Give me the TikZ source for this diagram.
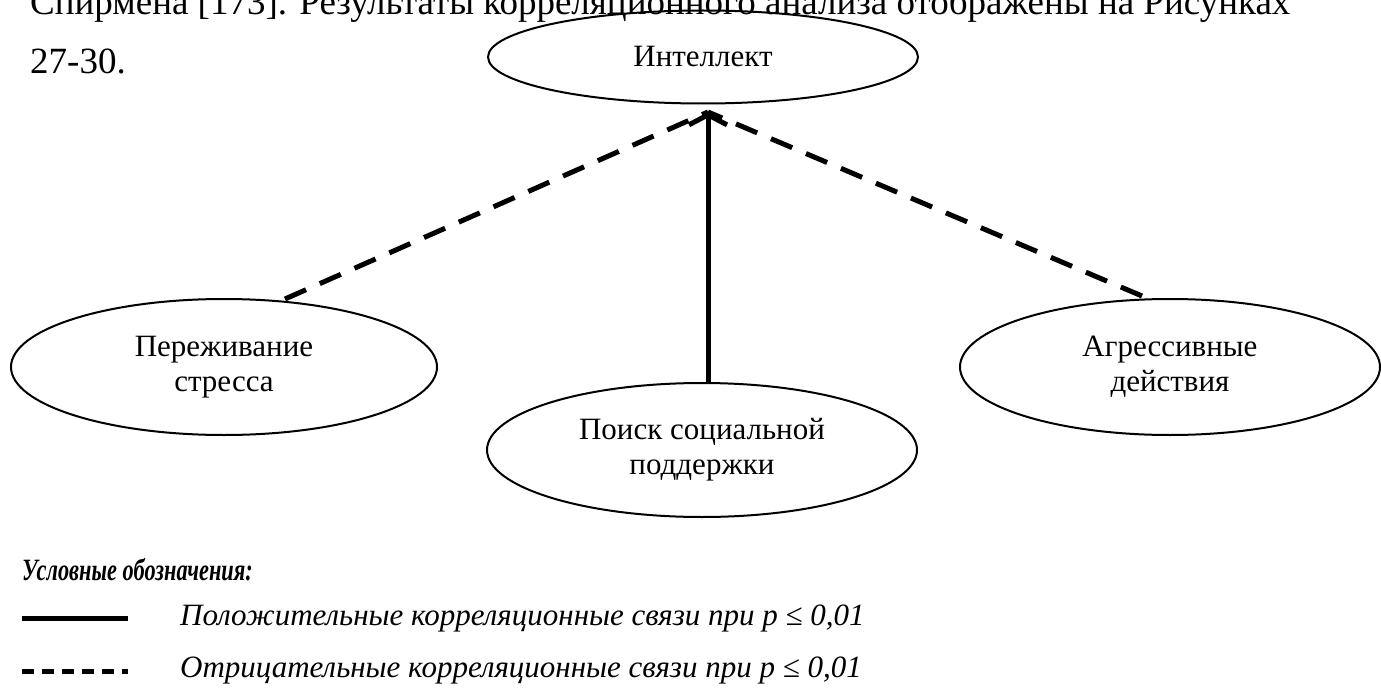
\documentclass[tikz,border=0pt]{standalone}
\usepackage{fontspec}
\setmainfont{Liberation Serif}
\usetikzlibrary{shapes.geometric,arrows.meta}
\begin{document}
\begin{tikzpicture}[x=1pt,y=-1pt,
  oval/.style={draw,line width=2pt,ellipse,inner sep=0pt,font=\fontsize{31}{35}\selectfont,align=center},
  posline/.style={line width=5pt},
  negline/.style={line width=5pt,dash pattern=on 23pt off 15pt},
  legtext/.style={anchor=base west,inner sep=0pt,font=\fontsize{31}{36}\selectfont\itshape},
  body/.style={anchor=base west,inner sep=0pt,font=\fontsize{37}{44}\selectfont}]
\useasboundingbox (0,0) rectangle (1381,690);
\node[body] (l1) at (30,15) {Спирмена [173]. Результаты корреляционного анализа отображены на Рисунках};
\node[body] (l2) at (30,74) {27-30.};
\node[oval,minimum width=430pt,minimum height=93pt] (int) at (703,57) {Интеллект};
\node[oval,minimum width=426pt,minimum height=136pt] (str) at (224,367) {Переживание\\стресса};
\node[oval,minimum width=430pt,minimum height=134pt] (soc) at (702,450) {Поиск социальной\\поддержки};
\node[oval,minimum width=420pt,minimum height=136pt] (agr) at (1170,367) {Агрессивные\\действия};
\coordinate (tip) at (708,112);
\coordinate (sb) at (708,383);
\coordinate (lb) at (285,299);
\coordinate (rb) at (1142,296);
\draw[posline,-{Straight Barb[length=10pt,width=38pt,line width=5pt]}] (sb) -- (tip);
\draw[negline] (lb) -- (tip);
\draw[negline] (rb) -- (tip);
\node[anchor=base west,inner sep=0pt,font=\fontsize{31}{36}\selectfont\bfseries\itshape] (leg) at (22,580) {\scalebox{0.72}[1]{Условные обозначения:}};
\coordinate (a1) at (22,618); \coordinate (a2) at (128,618);
\coordinate (b1) at (22,671); \coordinate (b2) at (128,671);
\draw[line width=5pt] (a1) -- (a2);
\draw[line width=5pt,dash pattern=on 12pt off 8pt] (b1) -- (b2);
\node[legtext] (t1) at (180,625) {Положительные корреляционные связи при p ≤ 0,01};
\node[legtext] (t2) at (180,677) {Отрицательные корреляционные связи при p ≤ 0,01};
\end{tikzpicture}
\end{document}
